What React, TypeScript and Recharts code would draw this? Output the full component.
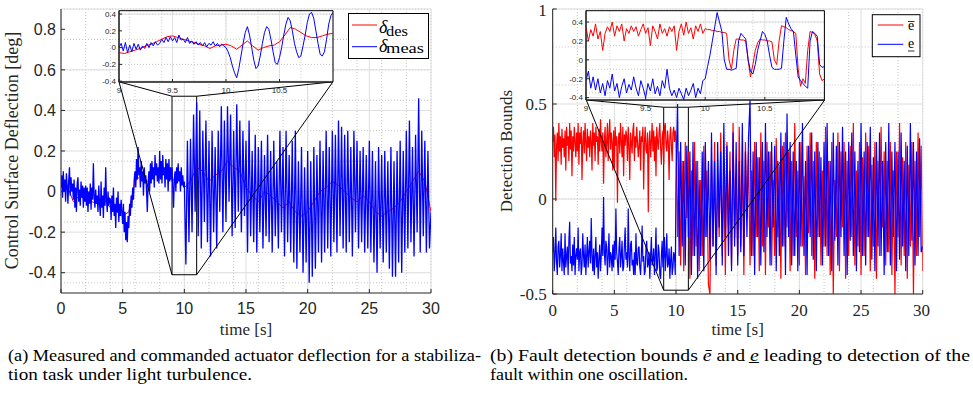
import { LineChart, Line, XAxis, YAxis, CartesianGrid, ReferenceArea, ReferenceLine } from 'recharts';

// sample spacing of the logged signals
const earlyStep = 0.0625; // 0..10 s, before the fault
const lateStep = 0.125; // 10..30 s
const desStep = 0.5;
const insetStep = 0.02;
const insetDesStep = 0.05;

const timeTicks = [0, 5, 10, 15, 20, 25, 30];
const leftTicks = [-0.4, -0.2, 0, 0.2, 0.4, 0.6, 0.8];
const rightTicks = [-0.5, 0, 0.5, 1];
const insetXTicks = [9, 9.5, 10, 10.5];
const insetYTicks = [-0.4, -0.2, 0, 0.2, 0.4];

// (a) measured deflection, 0..10 s
const measEarly = [
  0.02, 0.08, -0.03, 0.1, 0.0, 0.06, -0.05, 0.09, 0.03, -0.06, 0.05, 0.12, -0.02, 0.07, 0.0, 0.04,
  -0.04, 0.06, -0.08, 0.02, -0.1, 0.04, 0.07, -0.05, 0.01, -0.07, 0.05, -0.03, 0.03, -0.08, 0.02, -0.05,
  0.03, -0.07, 0.02, -0.1, 0.0, -0.06, 0.04, -0.09, 0.02, -0.04, 0.14, -0.02, -0.08, 0.01, -0.06, -0.02,
  -0.1, 0.03, -0.06, -0.12, 0.05, -0.08, -0.02, -0.13, 0.02, -0.07, 0.12, -0.04, -0.1, 0.0, -0.07, -0.03,
  -0.04, -0.14, -0.02, -0.1, 0.02, -0.12, -0.06, -0.18, -0.03, -0.1, 0.0, -0.15, -0.06, -0.12, -0.04, -0.1,
  -0.16, -0.06, -0.2, -0.1, -0.24, -0.15, -0.25, -0.12, -0.18, -0.06, -0.12, -0.02, -0.08, 0.02, -0.04, 0.06,
  0.1, 0.02, 0.16, 0.06, 0.22, 0.08, 0.12, 0.02, 0.15, 0.05, 0.1, -0.02, 0.12, 0.04, 0.08, 0.0,
  -0.1, 0.04, 0.1, 0.0, 0.14, 0.04, 0.15, 0.06, 0.12, 0.02, 0.18, 0.08, 0.14, 0.05, 0.12, 0.04,
  0.2, 0.06, 0.15, 0.04, 0.18, 0.08, 0.12, 0.02, 0.16, 0.06, 0.14, 0.0, 0.16, 0.05, 0.12, 0.06,
  0.12, 0.02, -0.08, 0.06, 0.1, 0.0, 0.12, 0.04, 0.14, 0.05, 0.1, 0.0, 0.12, 0.03, 0.08, 0.02,
];
// (a) measured deflection, 10..30 s
const measLate = [
  0.05, -0.36, 0.25, -0.25, 0.26, -0.2, 0.38, -0.1,
  0.44, -0.22, 0.4, -0.28, 0.3, -0.15, 0.35, -0.25,
  0.25, -0.32, 0.3, -0.2, 0.22, -0.28, 0.3, -0.1,
  0.42, -0.2, 0.35, -0.15, 0.42, -0.05, 0.38, -0.22,
  0.3, -0.18, 0.43, -0.1, 0.35, -0.2, 0.3, -0.12,
  0.25, -0.3, 0.35, -0.22, 0.2, -0.25, 0.28, -0.3,
  0.22, -0.2, 0.25, -0.28, 0.18, -0.22, 0.28, -0.25,
  0.2, -0.3, 0.25, -0.22, 0.15, -0.28, 0.3, -0.2,
  0.22, -0.32, 0.3, -0.25, 0.18, -0.3, 0.25, -0.35,
  0.3, -0.38, 0.15, -0.3, 0.22, -0.4, 0.12, -0.35,
  0.2, -0.45, 0.15, -0.42, 0.22, -0.38, 0.18, -0.3,
  0.25, -0.35, 0.2, -0.3, 0.3, -0.28, 0.22, -0.32,
  0.3, -0.25, 0.28, -0.3, 0.35, -0.22, 0.32, -0.28,
  0.28, -0.3, 0.3, -0.25, 0.22, -0.32, 0.3, -0.2,
  0.25, -0.28, 0.2, -0.25, 0.22, -0.3, 0.18, -0.28,
  0.25, -0.3, 0.2, -0.35, 0.15, -0.4, 0.22, -0.28,
  0.18, -0.35, 0.2, -0.3, 0.15, -0.38, 0.22, -0.42,
  0.15, -0.42, 0.2, -0.35, 0.25, -0.4, 0.2, -0.3,
  0.3, -0.28, 0.35, -0.25, 0.22, -0.32, 0.28, -0.2,
  0.46, -0.3, 0.3, -0.22, 0.25, -0.3, 0.2, -0.28,
  -0.1,
];

// (a) commanded deflection, 0..30 s every 0.5 s
const deltaDes = [
  0.02, 0.03, -0.05, -0.02, -0.04, -0.05, -0.06, -0.04, -0.08, -0.1,
  -0.12, -0.1, 0.05, 0.08, 0.05, 0.08, 0.1, 0.1, 0.05, 0.08,
  0.02, 0.05, 0.12, 0.1, 0.05, 0.08, 0.1, 0.15, 0.12, 0.1,
  0.02, -0.02, -0.05, 0.0, -0.02, -0.05, -0.08, -0.05, -0.1, -0.12,
  -0.1, -0.05, 0.0, 0.02, 0.05, 0.03, 0.0, -0.03, -0.05, -0.02,
  -0.05, -0.1, -0.12, -0.1, -0.08, -0.05, 0.0, 0.05, 0.1, 0.05,
  -0.1,
];

// (a) inset, 9..11 s
const zoomMeas = [
  0.0, 0.05, -0.04, 0.06, -0.06, 0.03, -0.05, 0.05, -0.02, 0.04,
  -0.03, 0.02, -0.01, 0.05, 0.0, 0.06, 0.02, 0.07, 0.03, 0.05,
  0.1, 0.06, 0.12, 0.07, 0.13, 0.08, 0.12, 0.06, 0.15, 0.09,
  0.1, 0.06, 0.12, 0.05, 0.08, 0.04, 0.07, 0.03, 0.06, 0.02,
  0.06, 0.01, 0.05, 0.03, 0.07, 0.02, 0.05, 0.01, 0.04, 0.02,
  0.0, -0.05, -0.12, -0.22, -0.3, -0.36, -0.25, -0.1, 0.05, 0.18,
  0.25, 0.15, 0.0, -0.15, -0.25, -0.22, -0.1, 0.05, 0.18, 0.25,
  0.22, 0.1, -0.05, -0.18, -0.2, -0.12, 0.0, 0.15, 0.28, 0.36,
  0.32, 0.2, 0.05, -0.05, -0.12, -0.1, 0.02, 0.15, 0.3, 0.4,
  0.42, 0.35, 0.2, 0.05, -0.08, -0.1, -0.05, 0.1, 0.28, 0.38,
  0.42,
];
const zoomDes = [
  -0.06, -0.07, -0.05, -0.03, -0.01, 0.02, 0.04, 0.07, 0.1, 0.13,
  0.14, 0.12, 0.1, 0.08, 0.06, 0.04, 0.02, -0.01, 0.02, 0.03,
  0.04, 0.02, -0.02, 0.03, 0.08, 0.02, -0.03, 0.0, 0.02, 0.03,
  0.07, 0.15, 0.24, 0.22, 0.18, 0.14, 0.12, 0.12, 0.14, 0.16,
  0.17,
];

// (b) upper bound, 0..10 s
const upperEarly = [
  0.3, 0.38, 0.22, 0.34, -0.01, 0.28, 0.35, 0.2, 0.4, 0.25, 0.33, 0.18, 0.37, 0.27, 0.32, 0.22,
  0.36, 0.15, 0.38, 0.28, 0.33, 0.2, 0.4, 0.26, 0.36, 0.12, 0.33, 0.25, 0.38, 0.3, 0.22, 0.35,
  0.25, 0.4, 0.18, 0.35, 0.29, 0.38, 0.1, 0.3, 0.36, 0.24, 0.4, 0.3, 0.2, 0.37, 0.27, 0.33,
  0.22, 0.36, 0.3, 0.15, 0.4, 0.28, 0.35, 0.2, 0.38, 0.3, 0.33, 0.18, 0.37, 0.25, 0.42, 0.3,
  0.25, 0.35, 0.08, 0.3, 0.38, 0.22, 0.3, 0.4, 0.2, 0.34, 0.42, 0.26, 0.35, 0.3, 0.15, 0.36,
  0.16, 0.38, 0.28, 0.33, -0.02, 0.3, 0.35, 0.24, 0.4, 0.3, 0.22, 0.38, 0.12, 0.34, 0.28, 0.36,
  0.33, 0.2, 0.38, 0.28, 0.1, 0.35, 0.3, 0.24, 0.36, 0.4, 0.2, 0.33, 0.27, 0.38, 0.3, 0.22,
  0.28, 0.36, 0.15, 0.33, 0.3, 0.38, 0.05, 0.3, 0.38, 0.26, 0.24, 0.35, -0.07, 0.3, 0.36, 0.22,
  0.3, 0.4, 0.25, 0.36, 0.2, 0.33, 0.12, 0.38, 0.3, 0.26, 0.35, 0.4, 0.27, 0.18, 0.32, 0.36,
  0.18, 0.38, 0.4, 0.28, 0.25, 0.36, 0.3, 0.1, 0.33, 0.38, 0.28, 0.2, 0.35, 0.38, 0.3, 0.36,
];
// (b) upper bound, 10..30 s
const upperLate = [
  0.3, -0.2, 0.25, -0.35, 0.2, -0.38, 0.3, -0.1,
  0.25, -0.42, 0.15, -0.3, 0.3, -0.25, 0.2, -0.38,
  0.1, -0.3, 0.28, -0.2, 0.15, -0.45, -0.5, 0.2,
  -0.25, 0.3, -0.35, 0.1, -0.2, 0.35, -0.3, 0.15,
  -0.4, 0.3, -0.15, 0.25, -0.35, 0.4, -0.2, 0.1,
  -0.3, 0.38, -0.25, 0.2, -0.4, 0.3, -0.1, 0.25,
  -0.35, 0.15, -0.3, 0.3, -0.2, 0.22, -0.38, 0.35,
  -0.25, 0.2, -0.4, 0.3, -0.15, 0.25, -0.35, 0.1,
  -0.3, 0.32, -0.2, 0.18, -0.42, 0.28, -0.25, 0.35,
  -0.15, 0.25, -0.38, 0.2, -0.3, 0.4, -0.2, 0.15,
  -0.35, 0.3, -0.25, 0.12, -0.4, 0.28, -0.18, 0.35,
  -0.3, 0.2, -0.42, 0.3, -0.2, 0.25, -0.35, 0.15,
  -0.25, 0.38, -0.3, 0.2, -0.4, 0.3, -0.5, 0.1,
  -0.2, 0.35, -0.38, 0.25, -0.15, 0.3, -0.42, 0.2,
  -0.3, 0.28, -0.2, 0.4, -0.35, 0.15, -0.25, 0.3,
  -0.4, 0.22, -0.3, 0.35, -0.2, 0.28, -0.38, 0.18,
  -0.25, 0.3, -0.42, 0.2, -0.3, 0.38, -0.15, 0.25,
  -0.35, 0.2, -0.28, 0.3, -0.4, 0.15, -0.5, 0.25,
  -0.2, 0.4, -0.35, 0.22, -0.3, 0.3, -0.42, 0.18,
  -0.25, 0.3, -0.5, 0.2, -0.3, 0.35, -0.2, 0.28,
  -0.38,
];
// (b) lower bound, 0..10 s
const lowerEarly = [
  -0.28, -0.2, -0.38, -0.3, -0.15, -0.33, -0.4, -0.25, -0.22, -0.36, -0.3, -0.18, -0.38, -0.26, -0.33, -0.4,
  -0.18, -0.36, -0.3, -0.25, -0.4, -0.22, -0.12, -0.34, -0.3, -0.38, -0.24, -0.35, -0.2, -0.4, -0.3, -0.26,
  -0.32, -0.15, -0.38, -0.28, -0.26, -0.4, -0.35, -0.18, -0.3, -0.36, -0.24, -0.4, -0.3, -0.2, -0.36, -0.28,
  -0.22, -0.34, -0.1, -0.3, -0.38, -0.26, -0.4, -0.3, -0.2, -0.36, -0.28, -0.42, -0.32, -0.24, -0.38, -0.3,
  -0.15, -0.3, 0.01, -0.28, -0.35, -0.22, -0.25, -0.4, -0.3, -0.18, -0.36, -0.28, -0.3, -0.38, -0.24, -0.36,
  -0.22, -0.32, -0.05, -0.28, -0.33, -0.4, -0.26, -0.2, -0.36, -0.3, -0.22, -0.38, -0.36, -0.25, -0.15, -0.32,
  -0.28, -0.36, -0.05, -0.3, -0.38, -0.24, -0.22, -0.35, -0.32, -0.4, -0.28, -0.4, -0.18, -0.34, -0.35, -0.26,
  -0.25, -0.36, -0.4, -0.3, -0.14, -0.33, -0.3, -0.4, -0.38, -0.26, -0.22, -0.36, -0.34, -0.28, -0.42, -0.3,
  -0.2, -0.35, -0.32, -0.26, -0.4, -0.3, -0.15, -0.38, -0.36, -0.24, -0.28, -0.4, -0.42, -0.3, -0.22, -0.36,
  -0.3, -0.2, -0.38, -0.3, -0.18, -0.36, -0.34, -0.26, -0.42, -0.32, -0.25, -0.4, -0.36, -0.28, -0.3, -0.4,
];
// (b) lower bound, 10..30 s
const lowerLate = [
  0.1, 0.5, -0.3, 0.3, -0.25, 0.2, -0.35, 0.28,
  -0.2, 0.25, -0.4, 0.3, -0.3, 0.2, -0.42, 0.1,
  -0.3, 0.25, -0.38, 0.3, -0.2, 0.2, -0.32, 0.35,
  -0.25, 0.2, -0.4, 0.3, -0.15, 0.25, -0.35, 0.4,
  -0.2, 0.28, -0.3, 0.15, -0.38, 0.35, -0.25, 0.3,
  -0.35, 0.2, -0.28, 0.4, -0.3, 0.25, -0.2, 0.32,
  0.52, -0.3, 0.25, -0.4, 0.3, -0.2, 0.22, -0.35,
  0.3, -0.28, 0.4, -0.2, 0.25, -0.35, 0.3, -0.15,
  0.28, -0.38, 0.2, -0.3, 0.35, -0.25, 0.3, -0.4,
  0.45, -0.2, 0.3, -0.35, 0.25, -0.3, 0.2, -0.38,
  0.3, -0.25, 0.4, -0.3, 0.2, -0.4, 0.28, -0.2,
  0.35, -0.32, 0.25, -0.38, 0.3, -0.2, 0.22, -0.35,
  0.3, -0.25, 0.4, -0.3, 0.2, -0.38, 0.35, -0.22,
  0.28, -0.35, 0.3, -0.2, 0.38, -0.3, 0.25, -0.4,
  0.3, -0.22, 0.35, -0.3, 0.25, -0.38, 0.2, -0.28,
  0.4, -0.3, 0.25, -0.35, 0.3, -0.2, 0.38, -0.32,
  0.22, -0.38, 0.3, -0.25, 0.35, -0.3, 0.2, -0.4,
  0.3, -0.28, 0.4, -0.35, 0.25, -0.2, 0.3, -0.38,
  0.25, -0.32, 0.35, -0.25, 0.2, -0.38, 0.28, -0.3,
  0.4, -0.22, 0.3, -0.35, 0.25, -0.3, 0.32, -0.28,
  -0.25,
];

// (b) inset, 9..11 s
const zoomUpper = [
  0.35, 0.2, 0.32, 0.25, 0.38, 0.22, 0.3, 0.1, 0.28, 0.35,
  0.3, 0.4, 0.25, 0.36, 0.3, 0.38, 0.2, 0.33, 0.28, 0.36,
  0.3, 0.35, 0.25, 0.32, 0.38, 0.28, 0.34, 0.15, 0.36, 0.3,
  0.22, 0.38, 0.28, 0.33, 0.25, 0.35, 0.3, 0.36, 0.1, 0.3,
  0.38, 0.26, 0.4, 0.28, 0.34, 0.22, 0.36, 0.3, 0.38, 0.28,
  0.33, 0.32, 0.32, 0.31, 0.31, 0.3, 0.3, 0.29, 0.29, 0.28,
  0.0, -0.1, 0.1, 0.22, 0.22, 0.21, 0.21, 0.2, 0.0, -0.18,
  -0.05, 0.1, 0.18, 0.22, 0.21, 0.21, 0.2, 0.2, 0.19, 0.0,
  -0.05, 0.2, 0.36, 0.35, 0.34, 0.32, 0.31, 0.3, 0.28, -0.1,
  -0.28, -0.2, -0.25, 0.1, 0.3, 0.29, 0.27, 0.2, -0.15, -0.22,
  -0.2,
];
const zoomLower = [
  -0.22, -0.12, -0.3, -0.18, -0.32, -0.2, -0.35, -0.25, -0.38, -0.22,
  -0.3, -0.15, -0.33, -0.25, -0.4, -0.28, -0.2, -0.35, -0.26, -0.32,
  -0.18, -0.3, -0.38, -0.22, -0.3, -0.4, -0.25, -0.33, -0.2, -0.36,
  -0.28, -0.38, -0.22, -0.3, -0.1, -0.3, -0.38, -0.32, -0.4, -0.3,
  -0.36, -0.42, -0.3, -0.38, -0.32, -0.25, -0.4, -0.3, -0.36, -0.22,
  -0.2, -0.07, 0.05, 0.2, 0.35, 0.5, 0.4, 0.3, 0.0, -0.1,
  -0.1, -0.11, -0.1, -0.09, 0.2, 0.28, 0.25, 0.22, 0.0, -0.12,
  -0.15, -0.05, 0.1, 0.2, 0.3, 0.27, 0.2, 0.05, -0.08, -0.1,
  -0.1, -0.1, -0.09, 0.2, 0.45, 0.38, 0.33, 0.3, 0.05, -0.18,
  -0.22, -0.25, -0.28, -0.3, 0.2, 0.3, 0.28, 0.25, -0.05, -0.08,
  -0.07,
];

type Pt = { t: number; v: number };

const series = (vals: number[], t0: number, dt: number): Pt[] =>
  vals.map((v, i) => ({ t: Math.round((t0 + i * dt) * 10000) / 10000, v }));

const joined = (early: number[], late: number[]) =>
  [...series(early, 0, earlyStep), ...series(late, 10, lateStep)];

const steps = (a: number, b: number, d: number) => {
  const out: number[] = [];
  for (let k = 0; a + k * d <= b + 1e-9; k++) out.push(Math.round((a + k * d) * 1000) / 1000);
  return out;
};

const fmt = (v: number) => String(Math.round(v * 100) / 100);

const AX = '#262626';
const MAJOR = '#dedede';
const MINOR = '#c4c4c4';
const sans = '"Liberation Sans", Arial, sans-serif';
const serif = '"Liberation Serif", "Times New Roman", serif';

function MainLeft() {
  return (
    <div style={{ position: 'absolute', left: 0, top: 0 }}>
      <LineChart width={440} height={340} margin={{ top: 9, right: 9, bottom: 17, left: 0 }}>
        <CartesianGrid horizontalValues={steps(-0.5, 0.9, 0.05)} verticalValues={steps(0, 30, 1)} stroke={MINOR} strokeDasharray="1 2" />
        <CartesianGrid horizontalValues={[...leftTicks, 0.9]} verticalValues={[...timeTicks]} stroke={MAJOR} />
        <XAxis type="number" dataKey="t" domain={[0, 30]} ticks={timeTicks} allowDataOverflow height={30}
          stroke={AX} tickSize={-4} tickMargin={14} tick={{ fill: AX, fontSize: 16, fontFamily: sans }} />
        <YAxis type="number" domain={[-0.5, 0.9]} ticks={leftTicks} allowDataOverflow width={61} tickFormatter={fmt}
          stroke={AX} tickSize={-4} tickMargin={9} tick={{ fill: AX, fontSize: 16, fontFamily: sans }} />
        <Line data={series(deltaDes, 0, desStep)} dataKey="v" stroke="#ff0000" strokeWidth={1} dot={false} isAnimationActive={false} />
        <Line data={joined(measEarly, measLate)} dataKey="v" stroke="#0000ff" strokeWidth={1.3} dot={false} isAnimationActive={false} />
        <ReferenceArea x1={9} x2={11} y1={-0.41} y2={0.47} fill="none" fillOpacity={0} stroke="#000" strokeWidth={1} />
        <ReferenceLine segment={[{ x: 4.7, y: 0.541 }, { x: 9, y: 0.47 }]} stroke="#000" />
        <ReferenceLine segment={[{ x: 4.7, y: 0.541 }, { x: 9, y: -0.41 }]} stroke="#000" />
        <ReferenceLine segment={[{ x: 22.05, y: 0.541 }, { x: 11, y: 0.47 }]} stroke="#000" />
        <ReferenceLine segment={[{ x: 22.05, y: 0.541 }, { x: 11, y: -0.41 }]} stroke="#000" />
      </LineChart>
    </div>
  );
}

function MainRight() {
  return (
    <div style={{ position: 'absolute', left: 490, top: 0 }}>
      <LineChart width={440} height={340} margin={{ top: 9, right: 7.3, bottom: 16, left: 0 }}>
        <CartesianGrid horizontalValues={steps(-0.5, 1, 0.1)} verticalValues={steps(0, 30, 1)} stroke={MINOR} strokeDasharray="1 2" />
        <CartesianGrid horizontalValues={rightTicks} verticalValues={timeTicks} stroke={MAJOR} />
        <XAxis type="number" dataKey="t" domain={[0, 30]} ticks={timeTicks} allowDataOverflow height={30}
          stroke={AX} tickSize={-4} tickMargin={14} tick={{ fill: AX, fontSize: 17, fontFamily: serif }} />
        <YAxis type="number" domain={[-0.5, 1]} ticks={rightTicks} allowDataOverflow width={62.7} tickFormatter={fmt}
          stroke={AX} tickSize={-4} tickMargin={10} tick={{ fill: AX, fontSize: 17, fontFamily: serif }} />
        <Line data={joined(upperEarly, upperLate)} dataKey="v" stroke="#ff0000" strokeWidth={1.2} dot={false} isAnimationActive={false} />
        <Line data={joined(lowerEarly, lowerLate)} dataKey="v" stroke="#0000ff" strokeWidth={1.2} dot={false} isAnimationActive={false} />
        <ReferenceArea x1={9} x2={11} y1={-0.48} y2={0.483} fill="none" fillOpacity={0} stroke="#000" strokeWidth={1} />
        <ReferenceLine segment={[{ x: 2.72, y: 0.521 }, { x: 9, y: 0.483 }]} stroke="#000" />
        <ReferenceLine segment={[{ x: 2.72, y: 0.521 }, { x: 9, y: -0.48 }]} stroke="#000" />
        <ReferenceLine segment={[{ x: 22.05, y: 0.521 }, { x: 11, y: 0.483 }]} stroke="#000" />
        <ReferenceLine segment={[{ x: 22.05, y: 0.521 }, { x: 11, y: -0.48 }]} stroke="#000" />
      </LineChart>
    </div>
  );
}

type InsetProps = {
  left: number; width: number; height: number; xAxisH: number; rightM: number;
  domain: [number, number]; red: Pt[]; blue: Pt[];
};

function Inset({ left, width, height, xAxisH, rightM, domain, red, blue }: InsetProps) {
  return (
    <div style={{ position: 'absolute', left, top: 0 }}>
      <LineChart width={width} height={height} margin={{ top: 10.7, right: rightM, bottom: 0, left: 0 }}>
        <CartesianGrid horizontalValues={steps(-0.4, 0.4, 0.05)} verticalValues={steps(9, 11, 0.1)} stroke={MINOR}
          strokeDasharray="1 2" fill="#fff" fillOpacity={1} />
        <CartesianGrid horizontalValues={insetYTicks} verticalValues={insetXTicks} stroke={MAJOR} />
        <XAxis type="number" dataKey="t" domain={[9, 11]} ticks={insetXTicks} allowDataOverflow height={xAxisH}
          stroke={AX} tickSize={-3} tickMargin={8} tick={{ fill: AX, fontSize: 8, fontFamily: sans }} />
        <YAxis type="number" domain={domain} ticks={insetYTicks} allowDataOverflow width={30} tickFormatter={fmt}
          stroke={AX} tickSize={-3} tickMargin={6} tick={{ fill: AX, fontSize: 8, fontFamily: sans }} />
        <Line data={red} dataKey="v" stroke="#ff0000" strokeWidth={1} dot={false} isAnimationActive={false} />
        <Line data={blue} dataKey="v" stroke="#0000ff" strokeWidth={1} dot={false} isAnimationActive={false} />
        <ReferenceArea x1={9} x2={11} y1={domain[0]} y2={domain[1]} fill="none" fillOpacity={0} stroke="#000" strokeWidth={1} />
      </LineChart>
    </div>
  );
}

export default function App() {
  return (
    <div style={{ position: 'absolute', left: 0, top: 0, width: 973, height: 397, background: '#fff', overflow: 'hidden' }}>
      <MainLeft />
      <MainRight />
      <Inset left={89} width={250} height={100} xAxisH={18} rightM={6} domain={[-0.41, 0.44]}
        red={series(zoomDes, 9, insetDesStep)} blue={series(zoomMeas, 9, insetStep)} />
      <Inset left={556.3} width={275} height={120} xAxisH={20} rightM={6.6} domain={[-0.425, 0.52]}
        red={series(zoomUpper, 9, insetStep)} blue={series(zoomLower, 9, insetStep)} />
      <svg width={973} height={397} style={{ position: 'absolute', left: 0, top: 0, pointerEvents: 'none' }}>
        {/* axis labels */}
        <text x={12} y={150.5} transform="rotate(-90 12 150.5)" textAnchor="middle" dominantBaseline="central"
          fontFamily={serif} fontSize={18} fill={AX}>Control Surface Deflection [deg]</text>
        <text x={506.5} y={151} transform="rotate(-90 506.5 151)" textAnchor="middle" dominantBaseline="central"
          fontFamily={serif} fontSize={17} fill={AX}>Detection Bounds</text>
        <text x={246} y={329} textAnchor="middle" dominantBaseline="central" fontFamily={serif} fontSize={17} fill={AX}>time [s]</text>
        <text x={737.7} y={329} textAnchor="middle" dominantBaseline="central" fontFamily={serif} fontSize={17} fill={AX}>time [s]</text>

        {/* legend (a) */}
        <rect x={348.5} y={13.5} width={80} height={45} fill="#fff" stroke="#000" strokeWidth={1} />
        <line x1={352} y1={25} x2={377} y2={25} stroke="#ff0000" />
        <line x1={352} y1={46.7} x2={377} y2={46.7} stroke="#0000ff" />
        <text x={379} y={33.3} fontFamily={serif} fontStyle="italic" fontSize={18} fill="#000">δ</text>
        <text x={386} y={35.5} fontFamily={serif} fontSize={15} fill="#000" textLength={22} lengthAdjust="spacingAndGlyphs">des</text>
        <text x={379} y={51.7} fontFamily={serif} fontStyle="italic" fontSize={18} fill="#000">δ</text>
        <text x={386} y={53.3} fontFamily={serif} fontSize={15} fill="#000" textLength={38} lengthAdjust="spacingAndGlyphs">meas</text>

        {/* legend (b) */}
        <rect x={872.3} y={14.7} width={47.7} height={42} fill="#fff" stroke="#000" strokeWidth={1} />
        <line x1={877.7} y1={25} x2={903.3} y2={25} stroke="#ff0000" />
        <line x1={877.7} y1={44.3} x2={903.3} y2={44.3} stroke="#0000ff" />
        <text x={908} y={30} fontFamily={serif} fontSize={14} fill="#000">e</text>
        <line x1={908} y1={21.5} x2={914.5} y2={21.5} stroke="#000" strokeWidth={0.8} />
        <text x={908} y={48} fontFamily={serif} fontSize={14} fill="#000">e</text>
        <line x1={908} y1={51} x2={914.5} y2={51} stroke="#000" strokeWidth={0.8} />

        {/* captions */}
        <text x={8} y={361} fontFamily={serif} fontSize={16} fill="#000" textLength={473} lengthAdjust="spacingAndGlyphs">
          (a) Measured and commanded actuator deflection for a stabiliza-
        </text>
        <text x={8} y={380} fontFamily={serif} fontSize={16} fill="#000" textLength={244} lengthAdjust="spacingAndGlyphs">
          tion task under light turbulence.
        </text>
        <text x={490} y={361} fontFamily={serif} fontSize={16} fill="#000" textLength={480} lengthAdjust="spacingAndGlyphs">
          (b) Fault detection bounds <tspan fontStyle="italic">ē</tspan> and <tspan fontStyle="italic">e&#x0332;</tspan> leading to detection of the
        </text>
        <text x={490} y={380} fontFamily={serif} fontSize={16} fill="#000" textLength={198} lengthAdjust="spacingAndGlyphs">
          fault within one oscillation.
        </text>
      </svg>
    </div>
  );
}
